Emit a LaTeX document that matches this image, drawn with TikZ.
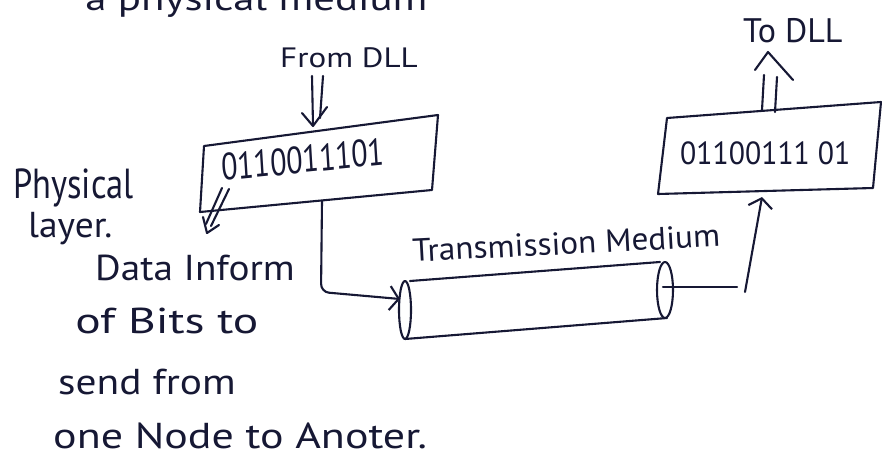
\documentclass[tikz,border=0pt]{standalone}
\usepackage{fontspec}
\setmainfont{PT Sans}
\usetikzlibrary{arrows.meta}
\definecolor{ink}{RGB}{22,24,52}
\newcommand\hw[1]{\fontsize{#1}{#1}\selectfont}
\begin{document}
\begin{tikzpicture}[x=1pt,y=-1pt,
  pen/.style={draw=ink, line width=2.1pt, line cap=round, line join=round},
  hand/.style={text=ink, inner sep=0pt, anchor=base west},
  barb/.style={-{Straight Barb[length=9pt,width=24pt]}}]
\useasboundingbox (0,0) rectangle (882,458);
\clip (0,0) rectangle (882,458);
\fill[white] (0,0) rectangle (882,458);

% ---- handwritten labels ----
\node[hand, font=\hw{34}, xscale=1.26] (top) at (85,10) {a physical medium};
\node[hand, font=\hw{28}, xscale=1.18] (from) at (280,67) {From DLL};
\node[hand, font=\hw{34}] (to) at (743,42) {To DLL};
\node[hand, font=\hw{42}, xscale=0.82] (phys) at (13,198) {Physical};
\node[hand, font=\hw{36}, xscale=1.04] (layer) at (28,237) {layer.};
\node[hand, font=\hw{36}, xscale=1.09] (d1) at (95,280) {Data Inform};
\node[hand, font=\hw{36}, xscale=1.32] (d2) at (75,333) {of Bits to};
\node[hand, font=\hw{36}, xscale=1.15] (d3) at (58,394) {send from};
\node[hand, font=\hw{36}, xscale=1.22] (d4) at (53,448) {one Node to Anoter.};
\node[hand, font=\hw{32}, xscale=1.04, rotate=3] (tm) at (413,262) {Transmission Medium};

% ---- sending frame ----
\coordinate (sTL) at (204,146);
\coordinate (sTR) at (438,115);
\coordinate (sBR) at (432,190);
\coordinate (sBL) at (200,212);
\draw[pen] (sTL) -- (sTR) -- (sBR) -- (sBL) -- cycle;
\node[hand, font=\hw{38}, xscale=0.79, rotate=4.5] (bits1) at (222,181) {0110011101};

% ---- receiving frame ----
\coordinate (rTL) at (667,118);
\coordinate (rTR) at (881,102);
\coordinate (rBR) at (873,188);
\coordinate (rBL) at (658,194);
\draw[pen] (rTL) -- (rTR) -- (rBR) -- (rBL) -- cycle;
\node[hand, font=\hw{32}, xscale=0.93] (bits2) at (680,164) {01100111 01};

% ---- cable ----
\coordinate (cL) at (405,310);
\coordinate (cR) at (665,290);
\draw[pen] (cL) ellipse [x radius=6, y radius=29];
\draw[pen] (cR) ellipse [x radius=8, y radius=28];
\draw[pen] (410,281) -- (660,262);
\draw[pen] (405,339) -- (667,318);

% ---- from DLL double arrow ----
\coordinate (fa1) at (312,76);
\coordinate (fa2) at (323,76);
\coordinate (fb1) at (313,125);
\coordinate (fb2) at (320,118);
\draw[pen] (fa1) -- (fb1);
\draw[pen] (fa2) -- (fb2);
\draw[pen] (302,113) -- (313,126) -- (327,107);

% ---- to DLL double arrow ----
\draw[pen] (762,110) -- (764,75);
\draw[pen] (775,112) -- (777,77);
\draw[pen] (755,70) -- (768,52) -- (793,80);

% ---- small pointer from frame to note ----
\draw[pen] (229,189) -- (211,226);
\draw[pen] (222,188) -- (206,224);
\draw[pen] (203,217) -- (207,233) -- (219,225);

% ---- frame to cable ----
\coordinate (sOut) at (322,201);
\coordinate (cIn) at (400,299);
\draw[pen, barb, rounded corners=8pt] (sOut) -- (321,292) -- (cIn);

% ---- cable to receiving frame ----
\coordinate (cOut) at (737,287);
\draw[pen] (cR) ++(-2,-3) -- (cOut);
\coordinate (up0) at (745,292);
\coordinate (up1) at (762,197);
\draw[pen, barb] (up0) -- (up1);
\end{tikzpicture}
\end{document}
